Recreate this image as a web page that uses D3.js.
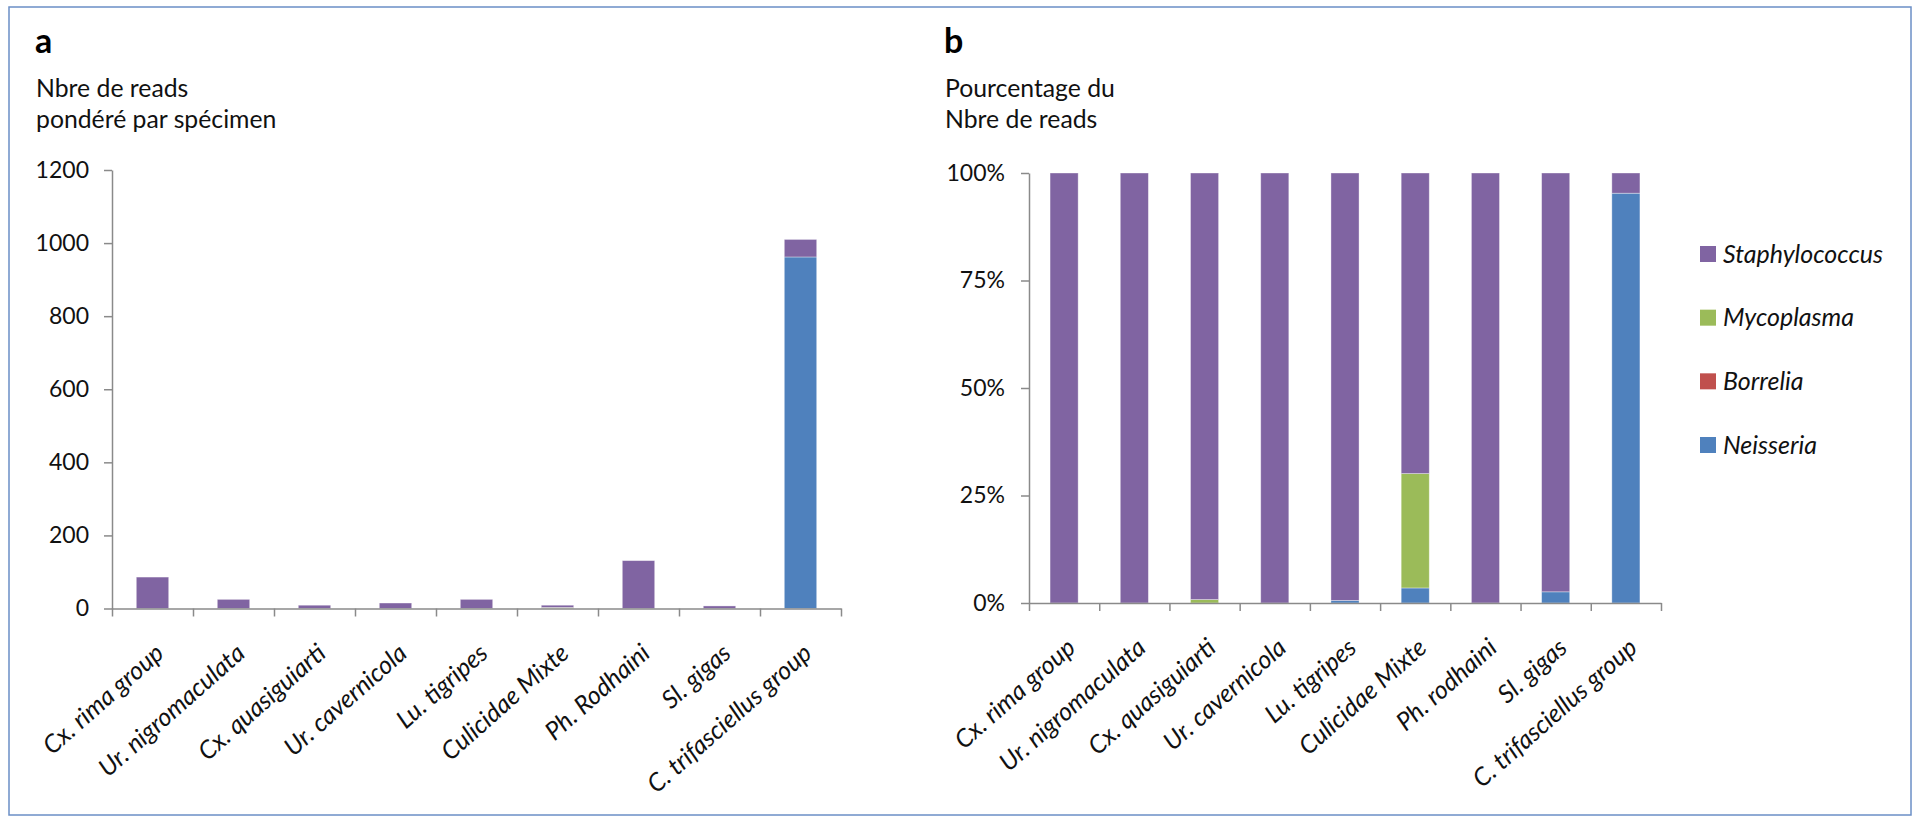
<!DOCTYPE html>
<html>
<head>
<meta charset="utf-8">
<script src="https://cdn.jsdelivr.net/npm/d3@7"></script>
<style>
  html, body { margin: 0; padding: 0; background: #ffffff; }
  svg { display: block; }
  text { font-family: Lato, "Open Sans", sans-serif; fill: #111; }
</style>
</head>
<body>
<svg id="chart" width="1917" height="820"></svg>
<script>
// ---------- data ----------
const categoriesA = ["Cx. rima group", "Ur. nigromaculata", "Cx. quasiguiarti", "Ur. cavernicola", "Lu. tigripes", "Culicidae Mixte", "Ph. Rodhaini", "Sl. gigas", "C. trifasciellus  group"];
const categoriesB = ["Cx. rima group", "Ur. nigromaculata", "Cx. quasiguiarti", "Ur. cavernicola", "Lu. tigripes", "Culicidae Mixte", "Ph. rodhaini", "Sl. gigas", "C. trifasciellus  group"];

const seriesNames = ["Neisseria", "Borrelia", "Mycoplasma", "Staphylococcus"];   // stacking order, bottom to top
const seriesColors = ["#4F81BD", "#C0504D", "#9BBB59", "#8064A2"];

// panel a: weighted read counts per specimen
const neisseriaA      = [0, 0, 0, 0, 0.2, 0.3, 0, 0.2, 962];
const borreliaA       = [0, 0, 0, 0, 0, 0, 0, 0, 0];
const mycoplasmaA     = [0, 0, 0.1, 0, 0, 2.4, 0, 0, 0];
const staphylococcusA = [86, 25, 8.9, 15, 24.8, 6.3, 131, 6.8, 48];

// panel b: percentage of reads
const neisseriaB      = [0, 0, 0, 0, 0.6, 3.5, 0, 2.6, 95.3];
const borreliaB       = [0, 0, 0, 0, 0, 0, 0, 0, 0];
const mycoplasmaB     = [0, 0, 0.8, 0, 0, 26.6, 0, 0, 0];
const staphylococcusB = [100, 100, 99.2, 100, 99.4, 69.9, 100, 97.4, 4.7];

const ticksA = [0, 200, 400, 600, 800, 1000, 1200];
const ticksB = [0, 25, 50, 75, 100];
const tickLabelsB = ["0%", "25%", "50%", "75%", "100%"];

// ---------- drawing ----------
const svg = d3.select("#chart");

// font sizes calibrated so that sample strings get the widths seen in the reference
function fit(sample, target, italic) {
  const t = svg.append("text").text(sample)
    .style("font-size", "100px").style("font-style", italic ? "italic" : "normal");
  const w = t.node().getComputedTextLength();
  t.remove();
  return 100 * target / w;
}
const titleSize = (fit("Nbre de reads", 152) + fit("pondéré par spécimen", 241)) / 2;
const tickSize = (fit("1200", 53) + fit("100%", 59)) / 2;
const catSize = (fit("C. trifasciellus  group", 203, true) + fit("Cx. rima group", 156, true)) / 2;
const legendSize = fit("Staphylococcus", 160, true);

svg.append("rect")
  .attr("x", 9).attr("y", 7).attr("width", 1902).attr("height", 808)
  .attr("fill", "none").attr("stroke", "#6b8fc6").attr("stroke-width", 1.5);

function panel(opts) {
  const { categories, stacksRaw, yMax, yTicks, yFmt, x0, x1, yTop, yBot, letter, title, titleX, pad } = opts;
  const g = svg.append("g");

  // titles
  g.append("text").attr("x", titleX).attr("y", 53)
    .style("font-size", "34px").style("font-weight", "700").style("fill", "#000").text(letter);
  title.forEach((t, i) => {
    g.append("text").attr("x", titleX + 1).attr("y", 97 + i * 31)
      .style("font-size", titleSize + "px").style("fill", "#111").text(t);
  });

  const x = d3.scaleBand().domain(categories).range([x0, x1]).paddingInner(0.6).paddingOuter(0.3);
  const xb = d3.scaleLinear().domain([0, categories.length]).range([x0, x1]);
  const y = d3.scaleLinear().domain([0, yMax]).range([yBot, yTop]);

  // stacked data
  const rows = categories.map((c, i) => {
    const r = { cat: c };
    seriesNames.forEach((s, k) => { r[s] = stacksRaw[k][i]; });
    return r;
  });
  const stacked = d3.stack().keys(seriesNames)(rows);

  g.selectAll("g.series").data(stacked).join("g")
    .attr("fill", (d, k) => seriesColors[k])
    .selectAll("rect").data(d => d).join("rect")
    .attr("x", d => x(d.data.cat))
    .attr("width", x.bandwidth())
    .attr("y", d => y(d[1]))
    .attr("height", d => Math.max(0, y(d[0]) - y(d[1])))
    .attr("stroke", "rgba(255,255,255,0.45)")
    .attr("stroke-width", 0.8);

  // y axis
  const ya = g.append("g").attr("transform", `translate(${x0},0)`)
    .call(d3.axisLeft(y).tickValues(yTicks).tickFormat(yFmt).tickSize(8).tickSizeOuter(0).tickPadding(pad));
  ya.selectAll("text").style("font-size", tickSize + "px").style("fill", "#111").style("font-family", "Lato, sans-serif");

  // x axis with ticks between categories
  const xa = g.append("g").attr("transform", `translate(0,${yBot})`)
    .call(d3.axisBottom(xb).tickValues(d3.range(categories.length + 1)).tickFormat("").tickSize(8).tickSizeOuter(0));

  [ya, xa].forEach(a => {
    a.selectAll("path,line").attr("stroke", "#8a8a8a").attr("stroke-width", 1.5);
  });

  // category labels
  g.selectAll("text.cat").data(categories).join("text")
    .attr("class", "cat")
    .attr("transform", d => `translate(${x(d) + x.bandwidth() / 2 + 13},${yBot + 47}) rotate(-41.5)`)
    .attr("text-anchor", "end")
    .style("font-size", catSize + "px").style("font-style", "italic").style("fill", "#111")
    .text(d => d);
}

panel({
  categories: categoriesA,
  stacksRaw: [neisseriaA, borreliaA, mycoplasmaA, staphylococcusA],
  yMax: 1200, yTicks: ticksA, yFmt: d => d,
  x0: 112, x1: 841, yTop: 170, yBot: 608.5,
  letter: "a", title: ["Nbre de reads", "pondéré par spécimen"], titleX: 35, pad: 15
});

panel({
  categories: categoriesB,
  stacksRaw: [neisseriaB, borreliaB, mycoplasmaB, staphylococcusB],
  yMax: 100, yTicks: ticksB, yFmt: (d, i) => tickLabelsB[i],
  x0: 1029, x1: 1661, yTop: 173, yBot: 603,
  letter: "b", title: ["Pourcentage du", "Nbre de reads"], titleX: 944, pad: 16
});

// legend (top to bottom: Staphylococcus, Mycoplasma, Borrelia, Neisseria)
const legendOrder = [3, 2, 1, 0];
const legendY = d3.scalePoint().domain(legendOrder).range([254, 445]);
const lg = svg.append("g");
legendOrder.forEach(k => {
  lg.append("rect").attr("x", 1700).attr("y", legendY(k) - 8).attr("width", 16).attr("height", 16)
    .attr("fill", seriesColors[k]);
  lg.append("text").attr("x", 1723).attr("y", legendY(k)).attr("dy", "0.35em")
    .style("font-size", legendSize + "px").style("font-style", "italic").style("fill", "#111")
    .text(seriesNames[k]);
});
</script>
</body>
</html>
